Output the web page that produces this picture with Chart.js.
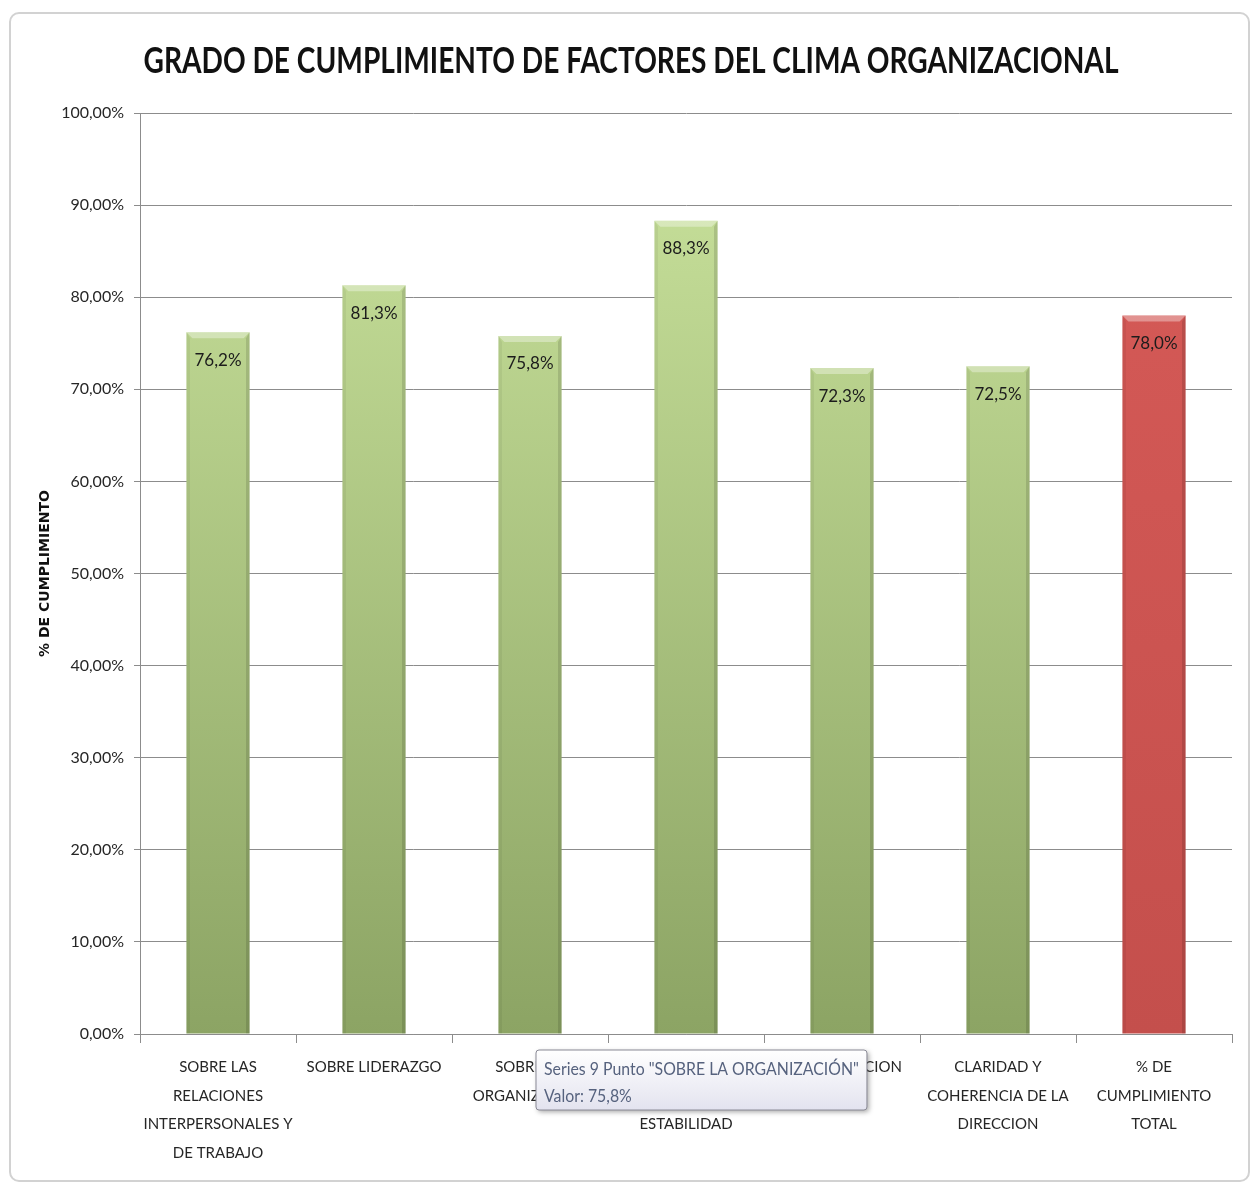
<!DOCTYPE html>
<html>
<head>
<meta charset="utf-8">
<script src="https://cdn.jsdelivr.net/npm/chart.js@4.4.1/dist/chart.umd.min.js"></script>
<style>
  html, body { margin: 0; padding: 0; background: #fff; }
  #frame { position: absolute; left: 9px; top: 12px; width: 1237px; height: 1166px; border: 2px solid #d2d2d2; border-radius: 10px; }
  #wrap { position: absolute; left: 0; top: 0; width: 1254px; height: 1185px; }
</style>
</head>
<body>
<div id="frame"></div>
<div id="wrap"><canvas id="chart"></canvas></div>
<script>
// Chart data
const TITLE = 'GRADO DE CUMPLIMIENTO DE FACTORES DEL CLIMA ORGANIZACIONAL';
const Y_TITLE = '% DE CUMPLIMIENTO';

const categories = [
  ['SOBRE LAS', 'RELACIONES', 'INTERPERSONALES Y', 'DE TRABAJO'],
  ['SOBRE LIDERAZGO'],
  ['SOBRE LA', 'ORGANIZACIÓN'],
  ['SOBRE LA', 'MOTIVACION Y', 'ESTABILIDAD'],
  ['COMUNICACION'],
  ['CLARIDAD Y', 'COHERENCIA DE LA', 'DIRECCION'],
  ['% DE', 'CUMPLIMIENTO', 'TOTAL'],
];
const values = [76.2, 81.3, 75.8, 88.3, 72.3, 72.5, 78.0];
const totalIndex = 6;      // red bar

const yMin = 0;
const yMax = 100;
const yStep = 10;

// hover box left on screen in the original picture
const hoverIndex = 2;
const hoverLines = ['Series 9 Punto "SOBRE LA ORGANIZACIÓN"', 'Valor: 75,8%'];

const fmtTick = v => v.toFixed(2).replace('.', ',') + '%';
const fmtValue = v => v.toFixed(1).replace('.', ',') + '%';

/**
 * Excel style gradient for each bar
 */
function barFill(context) {
  const chart = context.chart;
  const area = chart.chartArea;
  if (!area) return '#b0c985';
  const g = chart.ctx.createLinearGradient(0, area.top, 0, area.bottom);
  if (context.dataIndex === totalIndex) {
    g.addColorStop(0, '#d75b58');
    g.addColorStop(1, '#c44f4c');
  } else {
    g.addColorStop(0, '#cae39d');
    g.addColorStop(1, '#8ca464');
  }
  return g;
}

// Title drawn a bit narrow, like the Calibri original
const titlePlugin = {
  id: 'narrowTitle',
  afterDraw(chart) {
    const ctx = chart.ctx;
    ctx.save();
    ctx.font = 'bold 37px Lato';
    ctx.fillStyle = '#111';
    ctx.textBaseline = 'middle';
    ctx.textAlign = 'center';
    const w = ctx.measureText(TITLE).width;
    const k = 975 / w;
    ctx.translate(631, 61);
    ctx.scale(k, 1);
    ctx.fillText(TITLE, 0, 0);
    ctx.restore();
  }
};

// Bevel edges and value labels on the bars
const barDecor = {
  id: 'barDecor',
  afterDatasetsDraw(chart) {
    const ctx = chart.ctx;
    const meta = chart.getDatasetMeta(0);
    meta.data.forEach((bar, i) => {
      const { x, y, width, base } = bar.getProps(['x', 'y', 'width', 'base'], true);
      const l = x - width / 2;
      const r = x + width / 2;
      const b = 6;
      ctx.save();
      // top bevel
      ctx.fillStyle = 'rgba(255,255,255,0.35)';
      ctx.beginPath();
      ctx.moveTo(l, y); ctx.lineTo(r, y); ctx.lineTo(r - b, y + b); ctx.lineTo(l + b, y + b);
      ctx.closePath(); ctx.fill();
      // left side
      ctx.fillStyle = 'rgba(0,0,0,0.05)';
      ctx.beginPath();
      ctx.moveTo(l, y); ctx.lineTo(l + b * 0.6, y + b); ctx.lineTo(l + b * 0.6, base); ctx.lineTo(l, base);
      ctx.closePath(); ctx.fill();
      // right side
      ctx.fillStyle = 'rgba(0,0,0,0.12)';
      ctx.beginPath();
      ctx.moveTo(r, y); ctx.lineTo(r - b * 0.6, y + b); ctx.lineTo(r - b * 0.6, base); ctx.lineTo(r, base);
      ctx.closePath(); ctx.fill();
      // value label
      ctx.font = '17px Lato';
      ctx.fillStyle = '#1c1c1c';
      ctx.textAlign = 'center';
      ctx.textBaseline = 'middle';
      ctx.fillText(fmtValue(values[i]), x, y + 28);
      ctx.restore();
    });
  }
};

// Static hover box as seen in the screenshot
const hoverBox = {
  id: 'hoverBox',
  afterDraw(chart) {
    const ctx = chart.ctx;
    const xs = chart.scales.x;
    const left = xs.getPixelForValue(hoverIndex) + 6;
    const top = chart.chartArea.bottom + 16;
    const squeeze = 0.88;
    ctx.save();
    ctx.font = '18px Lato';
    const textW = Math.max(...hoverLines.map(t => ctx.measureText(t).width)) * squeeze;
    const w = textW + 16;
    const h = 60;
    ctx.shadowColor = 'rgba(0,0,0,0.35)';
    ctx.shadowBlur = 5;
    ctx.shadowOffsetX = 2;
    ctx.shadowOffsetY = 2;
    const g = ctx.createLinearGradient(0, top, 0, top + h);
    g.addColorStop(0, '#ffffff');
    g.addColorStop(1, '#e3e3ef');
    ctx.fillStyle = g;
    ctx.beginPath();
    ctx.roundRect(left, top, w, h, 3);
    ctx.fill();
    ctx.shadowColor = 'transparent';
    ctx.strokeStyle = '#8a8a96';
    ctx.lineWidth = 1;
    ctx.stroke();
    ctx.fillStyle = '#56627e';
    ctx.textBaseline = 'middle';
    ctx.textAlign = 'left';
    hoverLines.forEach((t, k) => {
      ctx.save();
      ctx.translate(left + 8, top + 19 + k * 27);
      ctx.scale(squeeze, 1);
      ctx.fillText(t, 0, 0);
      ctx.restore();
    });
    ctx.restore();
  }
};

new Chart(document.getElementById('chart'), {
  type: 'bar',
  data: {
    labels: categories,
    datasets: [{
      label: 'Series 9',
      data: values,
      backgroundColor: barFill,
      borderWidth: 0,
      barPercentage: 0.405,
      categoryPercentage: 1,
    }],
  },
  options: {
    responsive: true,
    maintainAspectRatio: false,
    animation: false,
    layout: {
      padding: { left: 0, right: 22, top: 113, bottom: 0 },
    },
    plugins: {
      legend: { display: false },
      tooltip: { enabled: false },
      title: { display: false },
    },
    scales: {
      x: {
        offset: true,
        grid: {
          display: true,
          offset: true,
          drawOnChartArea: false,
          drawTicks: true,
          tickLength: 9,
          color: '#8c8c8c',
        },
        border: { color: '#8c8c8c' },
        ticks: {
          color: '#262626',
          font: { family: 'Lato', size: 15, lineHeight: 1.9 },
          padding: 10,
          maxRotation: 0,
          autoSkip: false,
        },
        afterFit: (s) => { s.height = 151; },
      },
      y: {
        min: yMin,
        max: yMax,
        ticks: {
          stepSize: yStep,
          callback: (v) => fmtTick(v),
          color: '#262626',
          font: { family: 'Lato', size: 16 },
          padding: 10,
        },
        grid: { color: '#8c8c8c', tickLength: 6 },
        border: { color: '#8c8c8c' },
        title: {
          display: true,
          text: Y_TITLE,
          color: '#111',
          font: { family: 'DejaVu Sans', size: 14, weight: 'bold' },
          padding: { top: 37, bottom: 0 },
        },
        afterFit: (s) => { s.width = 140; },
      },
    },
  },
  plugins: [titlePlugin, barDecor, hoverBox],
});
</script>
</body>
</html>
